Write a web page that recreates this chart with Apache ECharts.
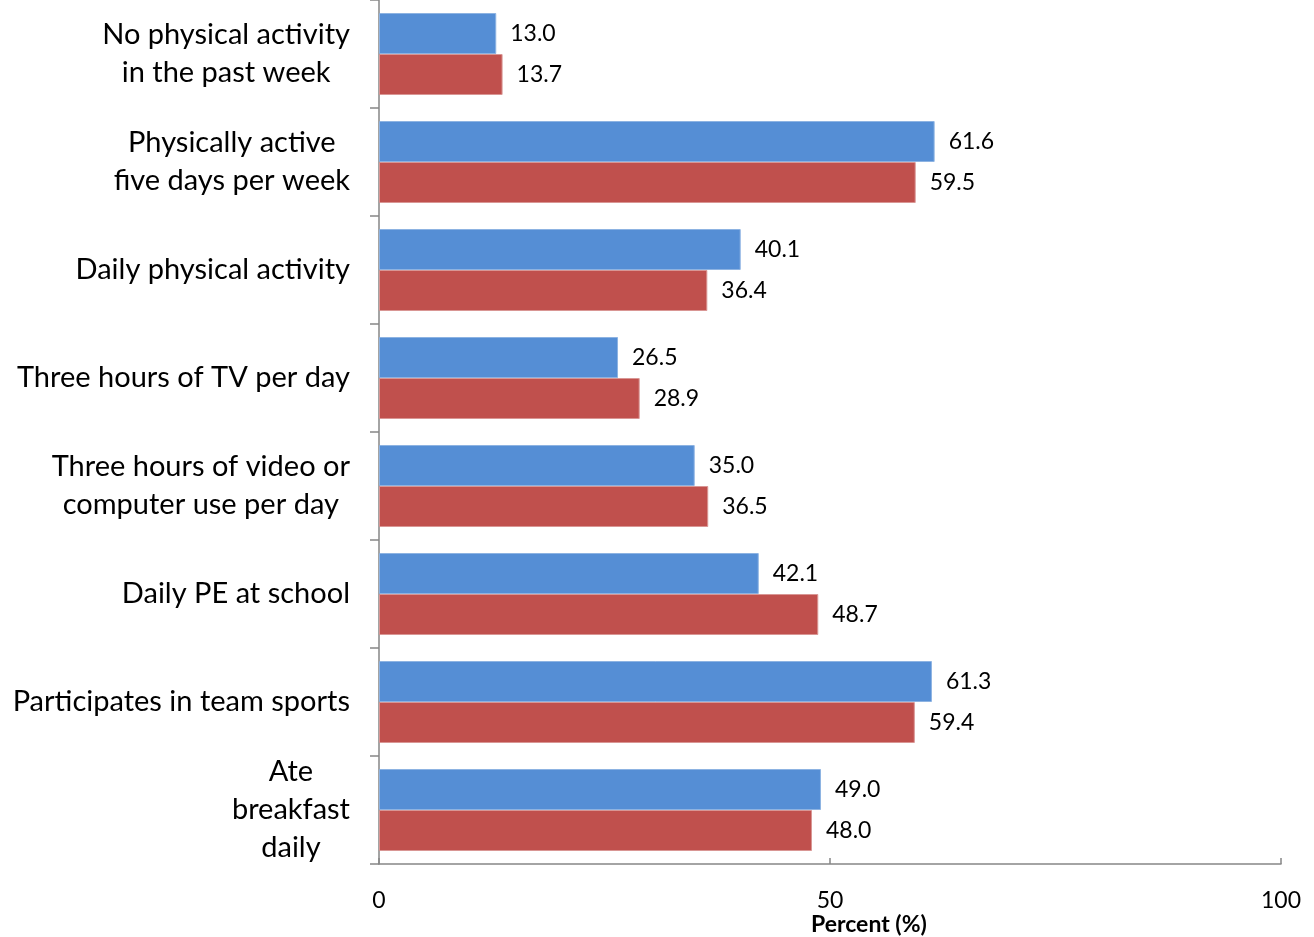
<!DOCTYPE html>
<html>
<head>
<meta charset="utf-8">
<script src="https://cdn.jsdelivr.net/npm/echarts@6/dist/echarts.min.js"></script>
<style>
html,body{margin:0;padding:0;background:#fff;}
#chart{width:1314px;height:937px;}
</style>
</head>
<body>
<div id="chart"></div>
<script>
const categories = [
  "No physical activity\nin the past week",
  "Physically active\nfive days per week",
  "Daily physical activity",
  "Three hours of TV per day",
  "Three hours of video or\ncomputer use per day",
  "Daily PE at school",
  "Participates in team sports",
  "Ate\nbreakfast\ndaily"
];
const seriesBlue = [13.0, 61.6, 40.1, 26.5, 35.0, 42.1, 61.3, 49.0];
const seriesRed = [13.7, 59.5, 36.4, 28.9, 36.5, 48.7, 59.4, 48.0];
const xTicks = [0, 50, 100];
const axisTitle = "Percent (%)";

const FONT = "Lato";
const chart = echarts.init(document.getElementById('chart'), null, {renderer: 'canvas'});

const labelCfg = {
  show: true,
  position: 'right',
  distance: 14,
  color: '#000',
  fontFamily: FONT,
  fontSize: 23,
  formatter: p => Number(p.value).toFixed(1)
};

chart.setOption({
  animation: false,
  backgroundColor: '#fff',
  title: {
    text: axisTitle,
    left: 806,
    top: 908,
    textStyle: {fontFamily: FONT, fontSize: 23, fontWeight: 'bold', color: '#000'}
  },
  grid: {left: 379, right: 33, top: -5, bottom: 73, containLabel: false},
  xAxis: {
    type: 'value',
    min: xTicks[0],
    max: xTicks[xTicks.length - 1],
    interval: xTicks[1] - xTicks[0],
    axisLine: {show: true, lineStyle: {color: '#868686', width: 1.5}},
    axisTick: {show: true, inside: true, length: 6, lineStyle: {color: '#868686', width: 1.5}},
    splitLine: {show: false},
    axisLabel: {margin: 25, color: '#000', fontFamily: FONT, fontSize: 23}
  },
  yAxis: {
    type: 'category',
    data: categories,
    inverse: true,
    axisLine: {show: true, lineStyle: {color: '#868686', width: 1.5}},
    axisTick: {show: true, length: 9, lineStyle: {color: '#868686', width: 1.5}},
    axisLabel: {
      margin: 29,
      color: '#000',
      fontFamily: FONT,
      fontSize: 29,
      lineHeight: 38,
      formatter: v => v.split('\n').map(l => '{c|' + l + '}').join('\n'),
      rich: {c: {align: 'center', fontFamily: FONT, fontSize: 29, lineHeight: 38, color: '#000'}}
    }
  },
  series: [
    {
      name: 'Series 1',
      type: 'bar',
      data: seriesBlue,
      barWidth: 41,
      barGap: '0%',
      itemStyle: {color: '#558ED5', borderColor: '#8DB3E2', borderWidth: 1},
      label: labelCfg
    },
    {
      name: 'Series 2',
      type: 'bar',
      data: seriesRed,
      barWidth: 41,
      barGap: '0%',
      itemStyle: {color: '#C0504D', borderColor: '#D99694', borderWidth: 1},
      label: labelCfg
    }
  ]
});
</script>
</body>
</html>
